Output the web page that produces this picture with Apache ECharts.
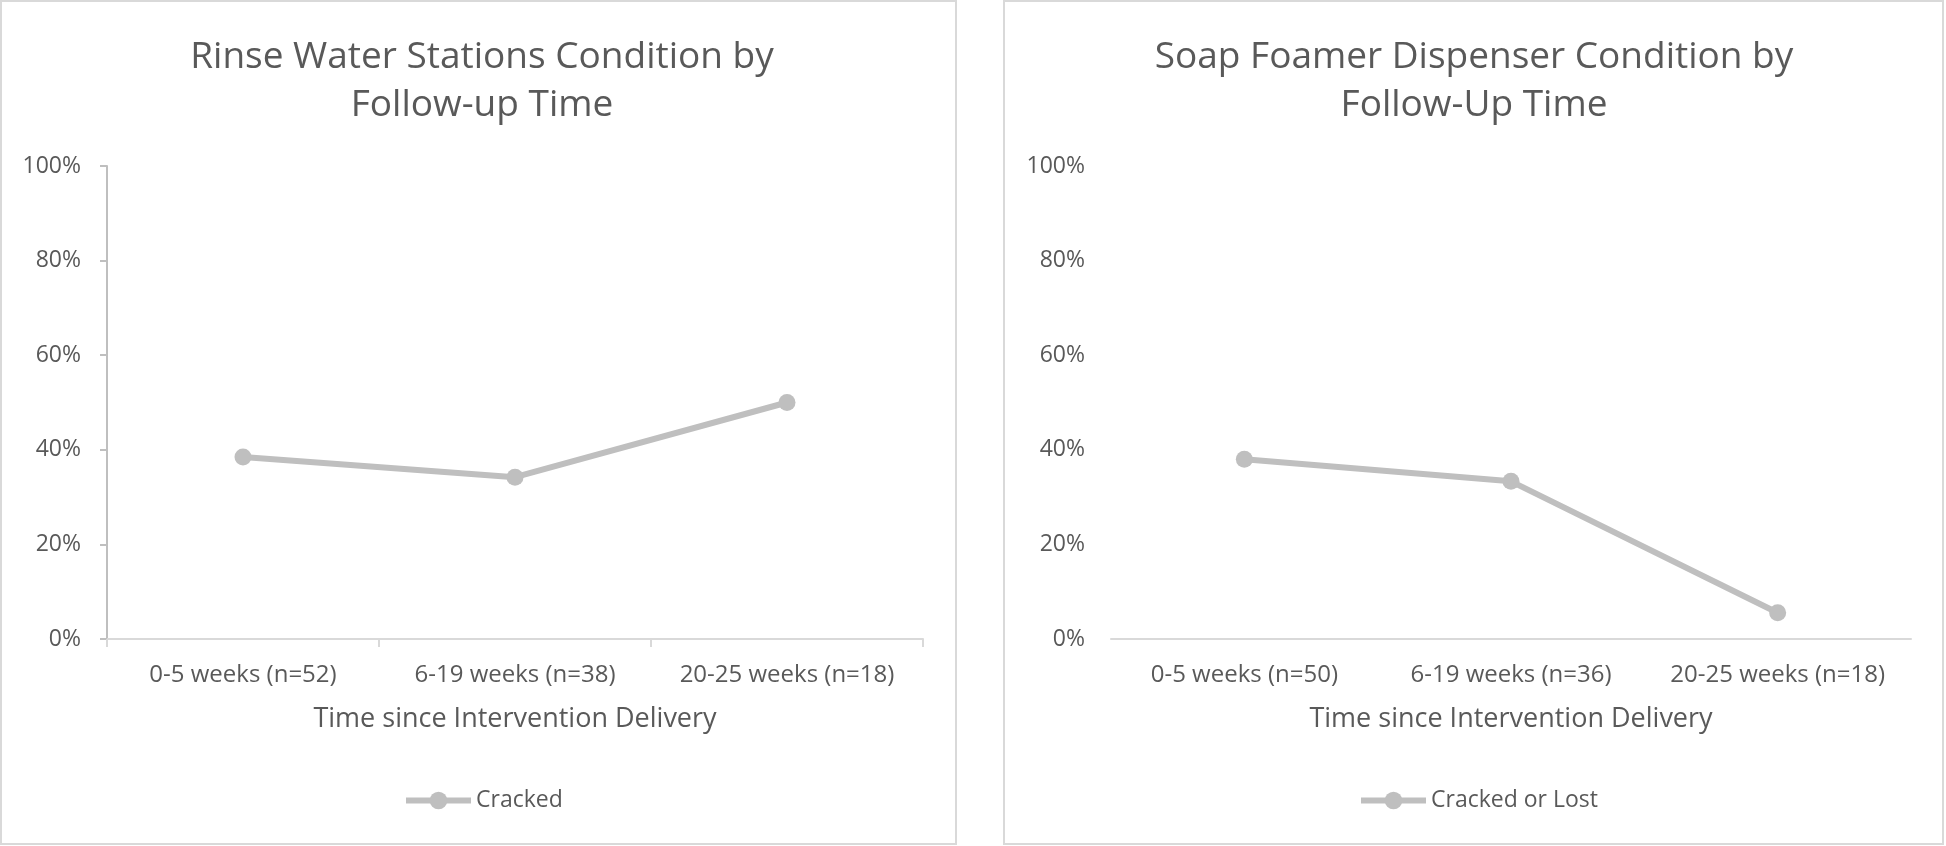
<!DOCTYPE html>
<html>
<head>
<meta charset="utf-8">
<script src="https://cdn.jsdelivr.net/npm/echarts@6/dist/echarts.min.js"></script>
<style>
html,body{margin:0;padding:0;background:#fff;}
#c{width:1946px;height:846px;}
</style>
</head>
<body>
<div id="c"></div>
<script>
// Data
const categoriesLeft = ['0-5 weeks (n=52)', '6-19 weeks (n=38)', '20-25 weeks (n=18)'];
const categoriesRight = ['0-5 weeks (n=50)', '6-19 weeks (n=36)', '20-25 weeks (n=18)'];
const crackedValues = [0.3846, 0.3421, 0.5];
const crackedOrLostValues = [0.38, 0.3333, 0.0556];
const yTicks = [0, 0.2, 0.4, 0.6, 0.8, 1.0];
const titleLeft = 'Rinse Water Stations Condition by\nFollow-up Time';
const titleRight = 'Soap Foamer Dispenser Condition by\nFollow-Up Time';
const xAxisName = 'Time since Intervention Delivery';

const FONT = 'Open Sans';
const TXT = '#595959';
const SERIES_COLOR = '#BFBFBF';

function yAxisCfg(idx, showLine) {
  return {
    type: 'value', gridIndex: idx, min: yTicks[0], max: yTicks[yTicks.length - 1], interval: 0.2,
    axisLine: {show: showLine, lineStyle: {color: '#BFBFBF', width: 2}},
    axisTick: {show: showLine, length: 7, lineStyle: {color: '#BFBFBF', width: 2}},
    splitLine: {show: false},
    axisLabel: {margin: 26, color: TXT, fontFamily: FONT, fontSize: 23,
      formatter: v => Math.round(v * 100) + '%'}
  };
}
function xAxisCfg(idx, cats, showTicks) {
  return {
    type: 'category', gridIndex: idx, data: cats, boundaryGap: true,
    axisLine: {show: true, lineStyle: {color: '#D9D9D9', width: 2}},
    axisTick: {show: showTicks, length: 8, lineStyle: {color: '#D9D9D9', width: 2}},
    axisLabel: {interval: 0, margin: 24, color: TXT, fontFamily: FONT, fontSize: 24},
    name: xAxisName, nameLocation: 'middle', nameGap: 67,
    nameTextStyle: {color: TXT, fontFamily: FONT, fontSize: 27}
  };
}
function lineSeries(name, idx, values) {
  return {
    name: name, type: 'line', xAxisIndex: idx, yAxisIndex: idx, data: values,
    symbol: 'circle', symbolSize: 17,
    lineStyle: {color: SERIES_COLOR, width: 6},
    itemStyle: {color: SERIES_COLOR},
    emphasis: {disabled: true}
  };
}
function legendCfg(name, left) {
  return {
    data: [name], left: left, top: 789, padding: 0, itemWidth: 65, itemHeight: 22, itemGap: 5,
    lineStyle: {width: 6},
    textStyle: {color: TXT, fontFamily: FONT, fontSize: 23}
  };
}

const chart = echarts.init(document.getElementById('c'));
chart.setOption({
  animation: false,
  backgroundColor: '#fff',
  graphic: [
    {type: 'rect', shape: {x: 1, y: 1, width: 955, height: 843}, style: {fill: 'none', stroke: '#D9D9D9', lineWidth: 2}, silent: true},
    {type: 'rect', shape: {x: 1004, y: 1, width: 939, height: 843}, style: {fill: 'none', stroke: '#D9D9D9', lineWidth: 2}, silent: true}
  ],
  title: [
    {text: titleLeft, left: 477, top: 28, textAlign: 'center',
      textStyle: {color: TXT, fontFamily: FONT, fontSize: 37, fontWeight: 'normal', lineHeight: 48}},
    {text: titleRight, left: 1469, top: 28, textAlign: 'center',
      textStyle: {color: TXT, fontFamily: FONT, fontSize: 37, fontWeight: 'normal', lineHeight: 48}}
  ],
  legend: [legendCfg('Cracked', 403), legendCfg('Cracked or Lost', 1358)],
  grid: [
    {left: 107, right: 1023, top: 166, bottom: 207},
    {left: 1111, right: 35, top: 166, bottom: 207}
  ],
  xAxis: [xAxisCfg(0, categoriesLeft, true), xAxisCfg(1, categoriesRight, false)],
  yAxis: [yAxisCfg(0, true), yAxisCfg(1, false)],
  series: [
    lineSeries('Cracked', 0, crackedValues),
    lineSeries('Cracked or Lost', 1, crackedOrLostValues)
  ]
});
</script>
</body>
</html>
